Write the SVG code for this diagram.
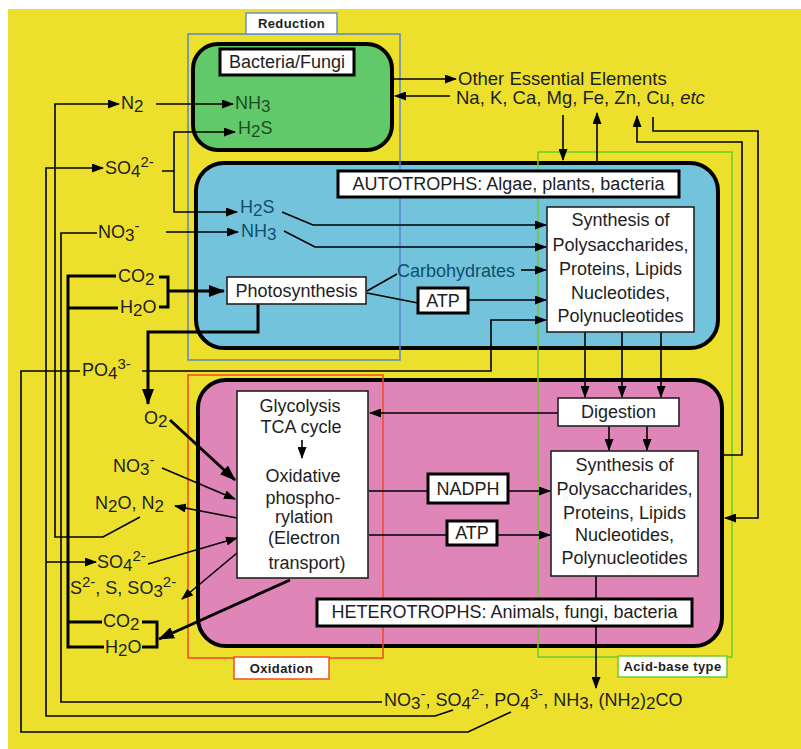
<svg xmlns="http://www.w3.org/2000/svg" width="801" height="749" viewBox="0 0 801 749">
<defs>
<marker id="ar" markerWidth="12" markerHeight="9" refX="11" refY="4.5" orient="auto" markerUnits="userSpaceOnUse"><path d="M0,0 L12,4.5 L0,9 z" fill="#000"/></marker>
<marker id="arb" markerWidth="16" markerHeight="12" refX="15" refY="6" orient="auto" markerUnits="userSpaceOnUse"><path d="M0,0 L16,6 L0,12 z" fill="#000"/></marker>
<style>
text{font-family:"Liberation Sans",Arial,sans-serif;font-size:18px;fill:#1e1e1e}
.c{text-anchor:middle}
.sm{font-size:13px;font-weight:bold;letter-spacing:0.4px}
.big{font-size:18.5px}
.gt{fill:#1b4d22}
.bt{fill:#0f4f6c}
.sub{font-size:17px}
.sup{font-size:15px}
.ln{fill:none;stroke:#000;stroke-width:1.6}
.tk{fill:none;stroke:#000;stroke-width:3}
.wb{fill:#fff;stroke:#222;stroke-width:1.6}
.wb3{fill:#fff;stroke:#000;stroke-width:3}
.box{stroke:#000;stroke-width:4}
.ol{fill:none;stroke-width:1.5}
</style>
</defs>
<rect x="8" y="9" width="793" height="740" fill="#ece02c"/>

<g id="bacteria-fungi"><rect class="box" x="193" y="44" width="199" height="106" rx="25" fill="#62c96a"/></g>
<g id="autotrophs"><rect class="box" x="196" y="163" width="522" height="185" rx="28" fill="#74c3dd"/></g>
<g id="heterotrophs"><rect class="box" x="198" y="380" width="524" height="266" rx="28" fill="#e085b8"/></g>

<g id="regions">
<rect class="ol" x="188" y="34" width="212" height="326" stroke="#5b86c8"/>
<rect class="ol" x="188" y="375" width="195" height="283" stroke="#f04a20"/>
<rect class="ol" x="538" y="152" width="194" height="505" stroke="#6ccc2a"/>
</g>

<g id="connectors">
<path class="ln" d="M393,79 H456" marker-end="url(#ar)"/>
<path class="ln" d="M450,96 H395" marker-end="url(#ar)"/>
<path class="ln" d="M563,115 V160" marker-end="url(#ar)"/>
<path class="ln" d="M597,161 V113" marker-end="url(#ar)"/>
<path class="ln" d="M723,455 H742 V142 H637 V116" marker-end="url(#ar)"/>
<path class="ln" d="M653,117 V131 H758 V518 H725" marker-end="url(#ar)"/>
<path class="ln" d="M140,517 L103,537 H55 V104 H119" marker-end="url(#ar)"/>
<path class="ln" d="M156,104 H233" marker-end="url(#ar)"/>
<path class="ln" d="M453,710 L435,716 H46 V168 H103" marker-end="url(#ar)"/>
<path class="ln" d="M46,562 H96" marker-end="url(#ar)"/>
<path class="ln" d="M162,171 H174 V132 H235" marker-end="url(#ar)"/>
<path class="ln" d="M174,171 V212 H237" marker-end="url(#ar)"/>
<path class="ln" d="M382,702 H61 V233 H97"/>
<path class="ln" d="M166,232 H238" marker-end="url(#ar)"/>
<path class="ln" d="M511,712 L468,732 H21 V371 H80"/>
<path class="ln" d="M142,371 H491 V320 H546" marker-end="url(#ar)"/>
<path class="tk" d="M116,276 H68 V647 H104 M68,308 H118 M68,622 H102"/>
<path class="tk" d="M159,277 H168 V307 H159"/>
<path class="tk" d="M168,291 H224" marker-end="url(#arb)"/>
<path class="tk" d="M258,304 V332 H148 V404" marker-end="url(#arb)"/>
<path class="ln" d="M282,212 L313,225 H546" marker-end="url(#ar)"/>
<path class="ln" d="M284,231 L315,247 H546" marker-end="url(#ar)"/>
<path class="ln" d="M367,291 L397,274"/>
<path class="ln" d="M521,270 H546" marker-end="url(#ar)"/>
<path class="ln" d="M367,293 L418,303"/>
<path class="ln" d="M468,300 H546" marker-end="url(#ar)"/>
<path class="ln" d="M585,332 V397" marker-end="url(#ar)"/>
<path class="ln" d="M622,332 V397" marker-end="url(#ar)"/>
<path class="ln" d="M661,332 V397" marker-end="url(#ar)"/>
<path class="ln" d="M558,413 H370" marker-end="url(#ar)"/>
<path class="ln" d="M609,426 V450" marker-end="url(#ar)"/>
<path class="ln" d="M647,426 V450" marker-end="url(#ar)"/>
<path class="ln" d="M369,491 H428 M508,491 H550" marker-end="url(#ar)"/>
<path class="ln" d="M369,535 H447 M497,535 H550" marker-end="url(#ar)"/>
<path class="ln" d="M596,576 V688" marker-end="url(#ar)"/>
<path class="tk" d="M170,420 L235,480" marker-end="url(#arb)"/>
<path class="ln" d="M162,468 L235,499" marker-end="url(#ar)"/>
<path class="ln" d="M237,518 L175,506" marker-end="url(#ar)"/>
<path class="ln" d="M148,564 L237,538" marker-end="url(#ar)"/>
<path class="ln" d="M237,553 L182,599" marker-end="url(#ar)"/>
<path class="tk" d="M290,580 L159,639" marker-end="url(#arb)"/>
<path class="tk" d="M142,622 H157 V647 H142"/>
</g>

<g id="label-reduction"><rect x="246" y="13" width="91" height="21" fill="#fff" stroke="#6a8fd0" stroke-width="1.5"/><text class="c sm" x="291.5" y="28">Reduction</text></g>
<g id="label-oxidation"><rect x="234" y="657" width="95" height="22" fill="#fff" stroke="#f05020" stroke-width="1.5"/><text class="c sm" x="281.5" y="673">Oxidation</text></g>
<g id="label-acidbase"><rect x="618" y="656" width="109" height="21" fill="#fff" stroke="#6ccc2a" stroke-width="1.5"/><text class="c sm" x="672.5" y="671">Acid-base type</text></g>

<g id="title-bacteria"><rect class="wb3" x="220" y="49" width="134" height="26"/><text class="c" x="287" y="68">Bacteria/Fungi</text></g>
<g id="title-autotrophs"><rect class="wb3" x="338" y="171" width="341" height="26"/><text class="c" x="508.5" y="190">AUTOTROPHS: Algae, plants, bacteria</text></g>
<g id="photosynthesis"><rect class="wb" x="227" y="277" width="139" height="27"/><text class="c" x="296.5" y="297">Photosynthesis</text></g>
<g id="atp1"><rect class="wb3" x="418" y="288" width="50" height="25"/><text class="c" x="443" y="307">ATP</text></g>
<g id="synthesis-auto"><rect class="wb" x="547" y="207" width="147" height="125"/>
<text class="c" x="620.5" y="226">Synthesis of</text><text class="c" x="620.5" y="251">Polysaccharides,</text><text class="c" x="620.5" y="275">Proteins, Lipids</text><text class="c" x="620.5" y="299">Nucleotides,</text><text class="c" x="620.5" y="322">Polynucleotides</text></g>
<g id="digestion"><rect class="wb" x="558" y="398" width="121" height="28"/><text class="c" x="618.5" y="418">Digestion</text></g>
<g id="synthesis-hetero"><rect class="wb" x="551" y="451" width="147" height="125"/>
<text class="c" x="624.5" y="471">Synthesis of</text><text class="c" x="624.5" y="495">Polysaccharides,</text><text class="c" x="624.5" y="519">Proteins, Lipids</text><text class="c" x="624.5" y="541">Nucleotides,</text><text class="c" x="624.5" y="564">Polynucleotides</text></g>
<g id="glycolysis"><rect class="wb" x="237" y="391" width="131" height="187"/>
<text class="c" x="300" y="412">Glycolysis</text><text class="c" x="301" y="433">TCA cycle</text>
<path class="ln" d="M302,440 V458" marker-end="url(#ar)"/>
<text class="c" x="303" y="482">Oxidative</text><text class="c" x="303" y="504">phospho-</text><text class="c" x="304" y="523">rylation</text><text class="c" x="304" y="544">(Electron</text><text class="c" x="307" y="569">transport)</text></g>
<g id="nadph"><rect class="wb3" x="428" y="474" width="80" height="29"/><text class="c" x="468" y="495">NADPH</text></g>
<g id="atp2"><rect class="wb3" x="447" y="521" width="50" height="24"/><text class="c" x="472" y="539">ATP</text></g>
<g id="title-heterotrophs"><rect class="wb3" x="317" y="599" width="375" height="27"/><text class="c" x="504.5" y="618">HETEROTROPHS: Animals, fungi, bacteria</text></g>

<g id="elements"><text class="big" x="458" y="85">Other Essential Elements</text><text class="big" x="456" y="104">Na, K, Ca, Mg, Fe, Zn, Cu, <tspan font-style="italic">etc</tspan></text></g>
<g id="nh3-green"><text class="gt" x="235" y="109">NH<tspan class="sub" dy="3">3</tspan></text></g>
<g id="h2s-green"><text class="gt" x="238" y="134">H<tspan class="sub" dy="3">2</tspan><tspan dy="-3">S</tspan></text></g>
<g id="h2s-blue"><text class="bt" x="240" y="213">H<tspan class="sub" dy="3">2</tspan><tspan dy="-3">S</tspan></text></g>
<g id="nh3-blue"><text class="bt" x="241" y="237">NH<tspan class="sub" dy="3">3</tspan></text></g>
<g id="carbohydrates"><text class="bt" x="397" y="277">Carbohydrates</text></g>
<g id="n2"><text x="121" y="109">N<tspan class="sub" dy="3">2</tspan></text></g>
<g id="so4-top"><text x="105" y="174">SO<tspan class="sub" dy="3">4</tspan><tspan class="sup" dy="-10">2-</tspan></text></g>
<g id="no3-top"><text x="98" y="238">NO<tspan class="sub" dy="3">3</tspan><tspan class="sup" dy="-10">-</tspan></text></g>
<g id="co2-top"><text x="118" y="282">CO<tspan class="sub" dy="3">2</tspan></text></g>
<g id="h2o-top"><text x="120" y="313">H<tspan class="sub" dy="3">2</tspan><tspan dy="-3">O</tspan></text></g>
<g id="po4"><text x="82" y="376">PO<tspan class="sub" dy="3">4</tspan><tspan class="sup" dy="-10">3-</tspan></text></g>
<g id="o2"><text x="144" y="424">O<tspan class="sub" dy="3">2</tspan></text></g>
<g id="no3-low"><text x="113" y="472">NO<tspan class="sub" dy="3">3</tspan><tspan class="sup" dy="-10">-</tspan></text></g>
<g id="n2o-n2"><text x="95" y="509">N<tspan class="sub" dy="3">2</tspan><tspan dy="-3">O, N</tspan><tspan class="sub" dy="3">2</tspan></text></g>
<g id="so4-low"><text x="97" y="568">SO<tspan class="sub" dy="3">4</tspan><tspan class="sup" dy="-10">2-</tspan></text></g>
<g id="sulfur-reduced"><text x="70" y="594">S<tspan class="sup" dy="-7">2-</tspan><tspan dy="7">, S, SO</tspan><tspan class="sub" dy="3">3</tspan><tspan class="sup" dy="-10">2-</tspan></text></g>
<g id="co2-low"><text x="103" y="627">CO<tspan class="sub" dy="3">2</tspan></text></g>
<g id="h2o-low"><text x="105" y="653">H<tspan class="sub" dy="3">2</tspan><tspan dy="-3">O</tspan></text></g>
<g id="excreta"><text x="384" y="706">NO<tspan class="sub" dy="3">3</tspan><tspan class="sup" dy="-10">-</tspan><tspan dy="7">, SO</tspan><tspan class="sub" dy="3">4</tspan><tspan class="sup" dy="-10">2-</tspan><tspan dy="7">, PO</tspan><tspan class="sub" dy="3">4</tspan><tspan class="sup" dy="-10">3-</tspan><tspan dy="7">, NH</tspan><tspan class="sub" dy="3">3</tspan><tspan dy="-3">, (NH</tspan><tspan class="sub" dy="3">2</tspan><tspan dy="-3">)</tspan><tspan class="sub" dy="3">2</tspan><tspan dy="-3">CO</tspan></text></g>
</svg>
